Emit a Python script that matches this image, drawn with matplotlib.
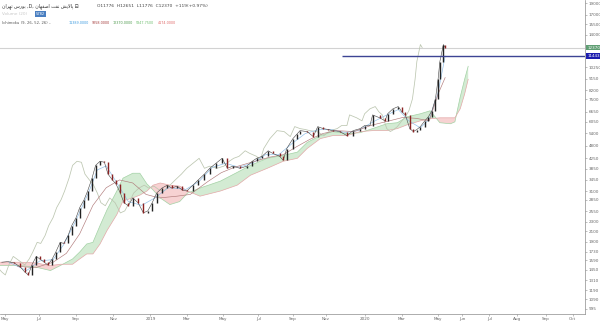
import numpy as np
import matplotlib
matplotlib.use('Agg')
import matplotlib.pyplot as plt
from matplotlib.ticker import NullLocator

# --- data (x = bar number, y = price) ---
bars = [2, 9, 16, 23, 28, 32, 36, 41, 45, 50, 54, 59, 63, 68, 72, 77, 81, 86, 90, 95,
        99, 104, 108, 113, 118, 122, 127, 131, 136, 140, 145, 150, 156, 162, 167, 172, 177, 183, 189, 194,
        200, 206, 211, 218, 224, 231, 237, 244, 251, 257, 263, 271, 279, 285, 290, 296, 303, 308, 316, 320,
        324, 331, 336, 339, 347, 354, 359, 365, 371, 376, 384, 392, 399, 407, 412, 418, 421, 429, 435, 438,
        444, 450, 454, 458, 463, 467, 471, 475, 480, 484, 488, 492, 495, 497, 501, 503]
close = [1560, 1570, 1550, 1490, 1420, 1380, 1520, 1650, 1610, 1560, 1520, 1610, 1720, 1890, 1870, 2020, 2220, 2400, 2640, 2850,
         3100, 3510, 3970, 4130, 4090, 3650, 3450, 3320, 3040, 2770, 2690, 2900, 2770, 2510, 2560, 2770, 3040, 3190, 3280, 3190,
         3250, 3130, 3100, 3280, 3450, 3650, 3860, 4050, 4250, 3860, 3940, 3860, 3940, 4130, 4250, 4330, 4570, 4460, 4330, 4170,
         4670, 5140, 5390, 5550, 5500, 5240, 5770, 5660, 5610, 5550, 5500, 5290, 5550, 5660, 5830, 5830, 6460, 6280, 6100, 6530,
         6850, 7000, 6660, 6460, 5660, 5500, 5610, 5770, 6100, 6340, 6720, 7530, 9110, 10800, 12730, 12370]

tenkan_bars = [10, 30, 45, 60, 72, 85, 100, 110, 120, 130, 145, 160, 175, 190, 210, 225, 240, 255, 270, 285,
               300, 315, 330, 345, 360, 375, 390, 405, 420, 435, 450, 462, 475, 485, 495, 503]
tenkan = [1560, 1440, 1580, 1600, 1850, 2300, 3050, 3800, 3950, 3450, 2800, 2700, 2900, 3200, 3150, 3400, 3900, 4050, 3900, 4050,
          4400, 4400, 4900, 5400, 5600, 5600, 5450, 5550, 6000, 6400, 6800, 6100, 5700, 6200, 8000, 11389]

kijun_bars = [20, 40, 60, 75, 90, 105, 120, 135, 150, 165, 180, 200, 215, 235, 250, 265, 285, 305, 320, 335,
              350, 365, 380, 400, 420, 440, 455, 470, 485, 495, 503]
kijun = [1500, 1480, 1560, 1700, 2050, 2700, 3200, 3450, 3350, 3000, 2900, 2950, 3000, 3400, 3700, 3900, 4100, 4300, 4400, 4750,
         5100, 5400, 5550, 5500, 5850, 6100, 6300, 6250, 6100, 7900, 9258]

lead_bars = [0, 23, 40, 57, 68, 82, 90, 98, 105, 113, 121, 132, 139, 150, 158, 166, 173, 181, 192, 203,
             212, 226, 249, 268, 283, 302, 320, 336, 347, 362, 376, 392, 407, 421, 437, 449, 460, 475, 486, 497,
             509, 514, 520, 525, 529]
span_a = [1510, 1510, 1490, 1440, 1510, 1610, 1720, 1860, 1890, 2220, 2590, 3100, 3510, 3680, 3680, 3320, 3130, 2900, 2720, 2800,
          3040, 3190, 3410, 3710, 3970, 4250, 4370, 4510, 4950, 5290, 5500, 5390, 5440, 5660, 5930, 5990, 6340, 6530, 6720, 5990,
          5930, 6040, 7680, 9110, 10320]
span_b = [1560, 1560, 1550, 1510, 1530, 1530, 1610, 1690, 1690, 1860, 2120, 2470, 2820, 2900, 2980, 3100, 3280, 3350, 3280, 3250,
          3100, 2950, 3100, 3280, 3610, 3860, 4130, 4250, 4670, 5140, 5290, 5290, 5500, 5550, 5550, 5660, 5870, 6100, 6220, 6280,
          6280, 6280, 6850, 7900, 9100]

last_price = 12370
alert_level = 11443
alert_from = 386
displacement = 26

price_ticks = [995, 1090, 1190, 1310, 1450, 1590, 1730, 1900, 2100, 2300, 2550, 2850, 3100, 3450, 3850, 4250,
               4800, 5400, 6050, 6650, 7500, 8200, 9150, 10250, 14000, 15500, 17000, 19000]
month_pos = [6, 44, 86, 128, 170, 211, 252, 292, 331, 368, 412, 454, 495, 522, 553, 584, 617, 647]
month_lab = ['May', 'Jul', 'Sep', 'Nov', '2019', 'Mar', 'May', 'Jul', 'Sep', 'Nov', '2020', 'Mar', 'May', 'Jun',
             'Jul', 'Aug', 'Sep', 'Oct']

# contextual forms for the persian title (matplotlib has no arabic shaping)
FORMS = {
    'ا': (0xFE8D, 0xFE8E, None, None), 'ب': (0xFE8F, 0xFE90, 0xFE91, 0xFE92),
    'پ': (0xFB56, 0xFB57, 0xFB58, 0xFB59), 'ت': (0xFE95, 0xFE96, 0xFE97, 0xFE98),
    'ر': (0xFEAD, 0xFEAE, None, None), 'س': (0xFEB1, 0xFEB2, 0xFEB3, 0xFEB4),
    'ش': (0xFEB5, 0xFEB6, 0xFEB7, 0xFEB8), 'ص': (0xFEB9, 0xFEBA, 0xFEBB, 0xFEBC),
    'ف': (0xFED1, 0xFED2, 0xFED3, 0xFED4), 'ل': (0xFEDD, 0xFEDE, 0xFEDF, 0xFEE0),
    'ن': (0xFEE5, 0xFEE6, 0xFEE7, 0xFEE8), 'ه': (0xFEE9, 0xFEEA, 0xFEEB, 0xFEEC),
    'و': (0xFEED, 0xFEEE, None, None), 'ی': (0xFBFC, 0xFBFD, 0xFBFE, 0xFBFF),
    '\uFEFB': (0xFEFB, 0xFEFC, None, None),
}


def shape(txt):
    s = txt.replace('لا', '\uFEFB')
    out = []
    for i, ch in enumerate(s):
        if ch not in FORMS:
            out.append(ch)
            continue
        prev = s[i - 1] if i > 0 else ''
        nxt = s[i + 1] if i + 1 < len(s) else ''
        jp = prev in FORMS and FORMS[prev][2] is not None
        jn = nxt in FORMS and FORMS[ch][2] is not None
        iso, fin, ini, med = FORMS[ch]
        g = med if (jp and jn) else fin if jp else ini if jn else iso
        out.append(chr(g))
    return ''.join(reversed(out))


bars = np.array(bars)
close = np.array(close)
lead_bars = np.array(lead_bars)
span_a = np.array(span_a)
span_b = np.array(span_b)

fig = plt.figure(figsize=(6, 3.22), dpi=100)
ax = fig.add_axes([0, 8 / 322, 585 / 600, 314 / 322])
ax.set_yscale('log')

# cloud
ax.fill_between(lead_bars, span_a, span_b, where=span_a >= span_b, interpolate=True,
                color='#d3ebd3', lw=0, zorder=1)
ax.fill_between(lead_bars, span_a, span_b, where=span_a < span_b, interpolate=True,
                color='#f7d2d2', lw=0, zorder=1)
ax.plot(lead_bars, span_a, color='#a3d2a5', lw=0.5, zorder=2)
ax.plot(lead_bars, span_b, color='#e3a8a8', lw=0.5, zorder=2)

# lagging span
ax.plot(bars - displacement, close, color='#bcc6b0', lw=0.55, zorder=2)
ax.plot(tenkan_bars, tenkan, color='#8cbde8', lw=0.45, zorder=3)
ax.plot(kijun_bars, kijun, color='#b07a7a', lw=0.45, zorder=3)

# price as small candles
ax.plot(bars, close, color='#444444', lw=0.4, zorder=4)
opens = np.r_[close[0], close[:-1]]
up = close >= opens
ax.vlines(bars[up], opens[up], close[up], color='#222222', lw=1.0, zorder=5)
ax.vlines(bars[~up], opens[~up], close[~up], color='#8b2323', lw=1.0, zorder=5)

ax.axhline(last_price, color='#d2d2d2', lw=0.8, zorder=0)
ax.hlines(alert_level, alert_from, 661, color='#3d4494', lw=1.0, zorder=6)

ax.set_xlim(0, 661)
ax.set_ylim(947, 19560)

for s in ['top', 'left']:
    ax.spines[s].set_visible(False)
for s in ['right', 'bottom']:
    ax.spines[s].set_color('#8c8c8c')
    ax.spines[s].set_linewidth(0.5)

ax.yaxis.tick_right()
ax.set_yticks(price_ticks)
ax.set_yticklabels([str(v) for v in price_ticks])
ax.yaxis.set_minor_locator(NullLocator())
ax.set_xticks(month_pos)
ax.set_xticklabels(month_lab)
ax.tick_params(axis='both', labelsize=3, colors='#8c8c8c', labelcolor='#666666',
               length=1.5, width=0.4, pad=1)

tr = ax.get_yaxis_transform()
ax.text(1.004, last_price, str(last_price), transform=tr, fontsize=3, color='white',
        va='center', ha='left', bbox=dict(fc='#5f9e73', ec='none', pad=0.7), zorder=10)
ax.text(1.004, alert_level, str(alert_level), transform=tr, fontsize=3, color='white',
        va='center', ha='left', bbox=dict(fc='#1c1cae', ec='none', pad=0.7), zorder=10)

# legend lines at the top left
title = shape('بورس تهران') + ' ,D, ' + shape('پالایش نفت اصفهان') + ' \u229f'
fig.text(2 / 600, 1 - 6 / 322, title, fontsize=3.3, color='#333333', va='center')
fig.text(97 / 600, 1 - 6 / 322, 'O11776  H12651  L11776  C12370  +119(+0.97%)',
         fontsize=3.2, color='#444444', va='center')
fig.text(2 / 600, 1 - 14 / 322, 'Volume (20)', fontsize=3, color='#c8c8c8', va='center')
fig.text(36 / 600, 1 - 14 / 322, '5782', fontsize=2.6, color='white', va='center',
         bbox=dict(fc='#4a7fc1', ec='none', pad=0.4))
fig.text(2 / 600, 1 - 23 / 322, 'Ichimoku (9, 26, 52, 26) \u2013', fontsize=2.7, color='#555555', va='center')
legend_vals = ['11389.0000', '9258.0000', '12370.0000', '5847.7500', '4174.0000']
legend_cols = ['#3d9be0', '#a33a3a', '#4e9a4e', '#6fbf70', '#e06a6a']
legend_x = [69, 92, 113, 136, 158]
for t, c, xp in zip(legend_vals, legend_cols, legend_x):
    fig.text(xp / 600, 1 - 23 / 322, t, fontsize=2.4, color=c, va='center')

plt.savefig('out.png', dpi=100)
